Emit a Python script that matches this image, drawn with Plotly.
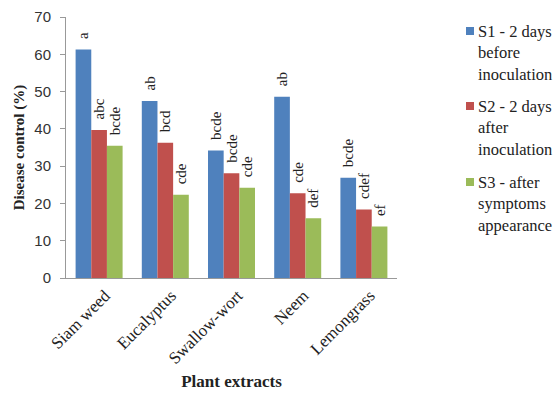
import plotly.graph_objects as go

categories = ["Siam weed", "Eucalyptus", "Swallow-wort", "Neem", "Lemongrass"]
series_names = ["S1 - 2 days<br>before<br>inoculation",
                "S2 - 2 days<br>after<br>inoculation",
                "S3 - after<br>symptoms<br>appearance"]
s1 = [61.3, 47.5, 34.2, 48.6, 26.9]
s2 = [39.7, 36.3, 28.1, 22.7, 18.4]
s3 = [35.5, 22.3, 24.2, 16.0, 13.8]
s1_letters = ["a", "ab", "bcde", "ab", "bcde"]
s2_letters = ["abc", "bcd", "bcde", "cde", "cdef"]
s3_letters = ["bcde", "cde", "cde", "def", "ef"]
colors = ["#4F81BD", "#C0504D", "#9BBB59"]

serif = "Liberation Serif"
sans = "Liberation Sans"
NB = "\u00a0\u00a0"

fig = go.Figure()
for i, (name, vals, letters) in enumerate(zip(series_names, [s1, s2, s3],
                                               [s1_letters, s2_letters, s3_letters])):
    fig.add_trace(go.Bar(
        x=categories, y=vals, name=name, marker_color=colors[i],
        marker_line_width=0,
        text=[NB + t for t in letters], textposition="outside", textangle=-90,
        textfont=dict(family=serif, size=15, color="#222"),
        cliponaxis=False, constraintext="none", showlegend=False,
    ))

# manual legend (pixel layout converted to paper coords)
L, R, T, B = 66, 397, 17, 278
W, H = R - L, B - T
def px(x):
    return (x - L) / W
def py(y):
    return (B - y) / H

first_line_centers = [31, 106, 182]
for i, name in enumerate(series_names):
    c = first_line_centers[i]
    fig.add_shape(type="rect", xref="paper", yref="paper",
                  x0=px(466), x1=px(474), y0=py(c + 4), y1=py(c - 4),
                  fillcolor=colors[i], line_width=0)
    fig.add_annotation(xref="paper", yref="paper", x=px(476), y=py(c - 11),
                       xanchor="left", yanchor="top", align="left",
                       text=name, showarrow=False,
                       font=dict(family=serif, size=16.5, color="#222"))

fig.update_layout(
    width=559, height=393,
    margin=dict(l=L, r=559 - R, t=T, b=393 - B),
    paper_bgcolor="white", plot_bgcolor="white",
    barmode="group", bargap=0.29, bargroupgap=0,
    font=dict(family=serif, size=15, color="#222"),
    showlegend=False,
    xaxis=dict(showline=True, linecolor="#999", linewidth=1, ticks="",
               tickangle=-45, tickfont=dict(family=serif, size=17), automargin=False,
               ticklabelshift=6,
               title=dict(text="<b>Plant extracts</b>", font=dict(family=serif, size=17), standoff=8)),
    yaxis=dict(range=[0, 70], dtick=10, showline=True, linecolor="#999", linewidth=1,
               ticks="outside", ticklen=5, tickcolor="#999", showgrid=False, zeroline=False,
               ticklabelstandoff=6, automargin=False,
               tickfont=dict(family=sans, size=15, color="#333"),
               title=dict(text="<b>Disease control (%)</b>", font=dict(family=serif, size=15), standoff=6)),
)
fig.write_html("out.html")
